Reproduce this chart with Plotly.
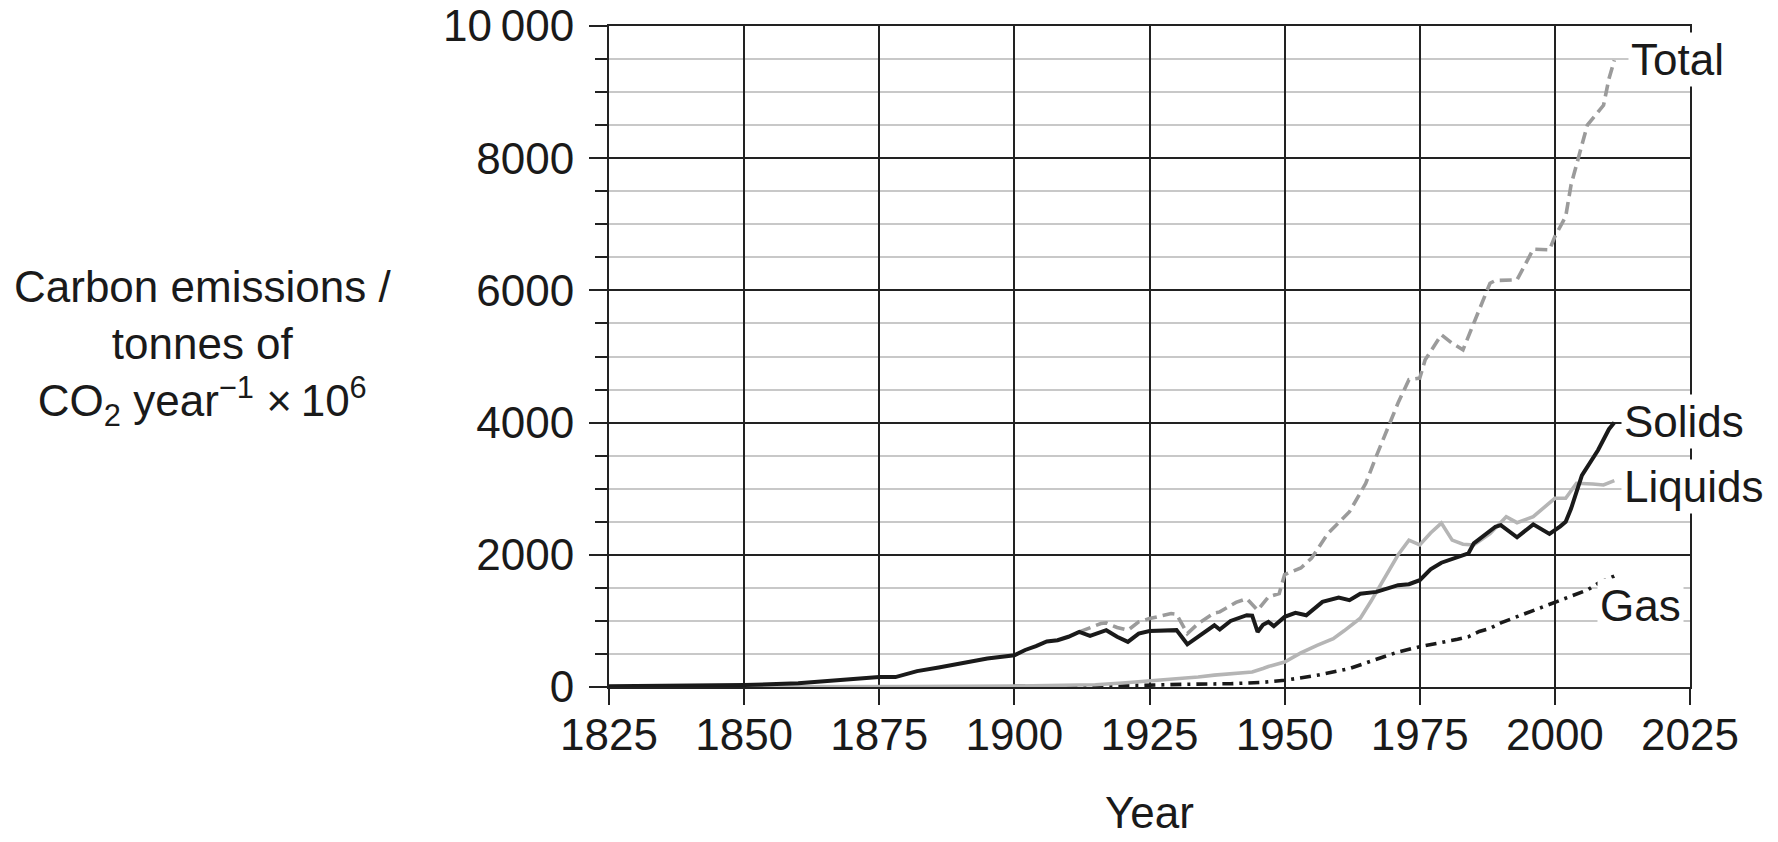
import plotly.graph_objects as go

# ---------------- data ----------------
solids_years = [1825, 1840, 1850, 1860, 1865, 1870, 1875, 1878, 1882, 1886, 1890, 1895, 1900, 1902,
                1904, 1906, 1908, 1910, 1912, 1914, 1917, 1919, 1921, 1923, 1925, 1929, 1930, 1932,
                1934, 1937, 1938, 1940, 1943, 1944, 1945, 1946, 1947, 1948, 1950, 1952, 1954, 1957,
                1960, 1962, 1964, 1967, 1971, 1973, 1975, 1977, 1979, 1981, 1983, 1984, 1985, 1989,
                1990, 1993, 1996, 1999, 2001, 2002, 2003, 2005, 2008, 2010, 2011]
solids_values = [10, 20, 30, 55, 85, 125, 150, 150, 240, 295, 360, 430, 480, 560,
                 620, 690, 707, 760, 833, 775, 859, 760, 682, 808, 848, 869, 860, 646,
                 758, 934, 869, 1000, 1086, 1080, 833, 940, 985, 920, 1061, 1121, 1086, 1288,
                 1353, 1313, 1410, 1439, 1540, 1555, 1616, 1780, 1880, 1932, 1982, 2020, 2174, 2425,
                 2449, 2265, 2461, 2315, 2430, 2500, 2700, 3200, 3585, 3900, 4000]

liquids_years = [1825, 1870, 1880, 1900, 1910, 1915, 1920, 1925, 1930, 1934, 1937, 1940, 1944,
                 1946, 1947, 1950, 1953, 1956, 1959, 1961, 1964, 1966, 1969, 1971, 1973, 1975,
                 1977, 1979, 1981, 1983, 1985, 1988, 1991, 1993, 1996, 2000, 2002, 2004, 2007,
                 2009, 2011]
liquids_values = [0, 0, 5, 15, 25, 35, 60, 90, 120, 151, 180, 202, 227,
                  280, 310, 379, 515, 631, 732, 850, 1040, 1300, 1720, 2000, 2222, 2150,
                  2330, 2480, 2222, 2160, 2148, 2320, 2577, 2486, 2577, 2855, 2855, 3082, 3071,
                  3056, 3121]

total_years = [1912, 1916, 1917, 1919, 1921, 1923, 1925, 1929, 1930, 1932, 1934, 1937, 1938, 1941,
               1943, 1945, 1947, 1949, 1950, 1953, 1955, 1958, 1962, 1965, 1967, 1969, 1971, 1973,
               1975, 1976, 1979, 1981, 1983, 1986, 1988, 1989, 1993, 1996, 1999, 2000, 2002, 2003,
               2004, 2005, 2006, 2008, 2009, 2010, 2011]
total_values = [833, 960, 970, 900, 859, 985, 1035, 1111, 1100, 808, 960, 1120, 1136, 1280,
                1338, 1162, 1364, 1414, 1700, 1800, 1950, 2323, 2651, 3080, 3500, 3900, 4300, 4650,
                4673, 4950, 5328, 5200, 5101, 5706, 6109, 6150, 6160, 6623, 6613, 6815, 7117, 7600,
                7900, 8200, 8500, 8700, 8800, 9200, 9480]

gas_years = [1900, 1910, 1920, 1924, 1931, 1940, 1946, 1950, 1956, 1962, 1967, 1971, 1975,
             1979, 1982, 1984, 1986, 1988, 1990, 1993, 1997, 2000, 2003, 2006, 2008, 2011]
gas_values = [10, 15, 20, 25, 40, 50, 71, 101, 177, 278, 420, 530, 610,
              670, 721, 760, 840, 888, 970, 1064, 1190, 1275, 1366, 1467, 1570, 1679]

x_ticks = [1825, 1850, 1875, 1900, 1925, 1950, 1975, 2000, 2025]
y_ticks = [0, 2000, 4000, 6000, 8000, 10000]
y_ticktext = ["0", "2000", "4000", "6000", "8000", "10\u2009000"]
y_long_minor = [1000, 3000, 5000, 7000, 9000]

series_labels = ["Total", "Solids", "Liquids", "Gas"]

# ---------------- styling ----------------
FONT = "Liberation Sans, Arial, sans-serif"
DARK = "#222222"
LIGHTGRID = "#c8c8c8"
FS = 44
TXT = "#1a1a1a"

fig = go.Figure()
fig.add_trace(go.Scatter(x=gas_years, y=gas_values, mode="lines", name="Gas",
                         line=dict(color="#1a1a1a", width=3.6, dash="11px,6px,3px,6px")))
fig.add_trace(go.Scatter(x=total_years, y=total_values, mode="lines", name="Total",
                         line=dict(color="#9b9b9b", width=3.6, dash="12px,6px")))
fig.add_trace(go.Scatter(x=liquids_years, y=liquids_values, mode="lines", name="Liquids",
                         line=dict(color="#b5b5b5", width=3.6)))
fig.add_trace(go.Scatter(x=solids_years, y=solids_values, mode="lines", name="Solids",
                         line=dict(color="#1a1a1a", width=4)))

fig.update_layout(
    width=1778, height=842,
    margin=dict(l=609, r=88, t=26, b=155, autoexpand=False),
    paper_bgcolor="white", plot_bgcolor="white",
    showlegend=False,
    font=dict(family=FONT, size=FS, color=TXT),
    xaxis=dict(
        range=[1825, 2025], tickvals=x_ticks, ticks="outside", ticklen=16, tickwidth=2,
        tickcolor=DARK, showgrid=True, gridcolor=DARK, gridwidth=2, zeroline=False,
        showline=True, linecolor=DARK, linewidth=2, mirror=True,
        tickfont=dict(family=FONT, size=FS, color=TXT), ticklabelstandoff=-8,
        title=dict(text="Year", font=dict(family=FONT, size=FS, color=TXT), standoff=39),
        fixedrange=True,
    ),
    yaxis=dict(
        range=[0, 10000], tickvals=y_ticks, ticktext=y_ticktext, ticks="outside", ticklen=18,
        tickwidth=2, tickcolor=DARK, showgrid=True, gridcolor=DARK, gridwidth=2, zeroline=False,
        showline=True, linecolor=DARK, linewidth=2, mirror=True,
        tickfont=dict(family=FONT, size=FS, color=TXT), ticklabelstandoff=6,
        minor=dict(dtick=500, ticks="outside", ticklen=12, tickwidth=2, tickcolor=DARK,
                   showgrid=True, gridcolor=LIGHTGRID, gridwidth=2),
        fixedrange=True,
    ),
    yaxis2=dict(
        range=[0, 10000], overlaying="y", anchor="x", side="left", tickvals=y_long_minor,
        ticks="outside", ticklen=18, tickwidth=2, tickcolor=DARK, showticklabels=False,
        showgrid=False, zeroline=False, showline=False, fixedrange=True,
    ),
)

# Y-axis title (three centred lines to the left of the axis)
fig.add_annotation(
    xref="paper", yref="paper", x=(202 - 609) / 1081, y=(687 - 347) / 661,
    xanchor="center", yanchor="middle", align="center", showarrow=False,
    text="Carbon emissions /<br>tonnes of<br>CO<sub>2</sub> year<sup>\u22121</sup> \u00d7\u200910<sup>6</sup>",
    font=dict(family=FONT, size=FS, color=TXT),
)

# Series labels with white boxes
label_pos = {"Total": (2013.6, 9500), "Solids": (2012.3, 4010), "Liquids": (2012.3, 3030), "Gas": (2007.8, 1240)}
for name in series_labels:
    lx, ly = label_pos[name]
    fig.add_annotation(
        x=lx, y=ly, xref="x", yref="y", xanchor="left", yanchor="middle", showarrow=False,
        text=name, bgcolor="white", borderpad=2,
        font=dict(family=FONT, size=FS, color=TXT),
    )

fig.write_html("out.html")
